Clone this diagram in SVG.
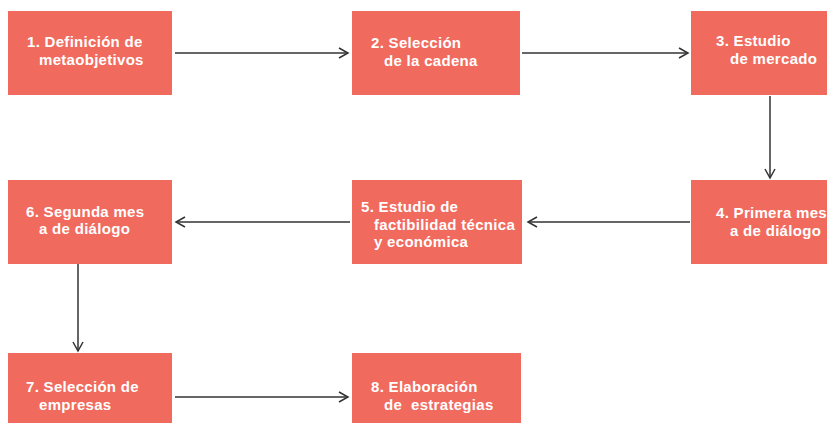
<svg xmlns="http://www.w3.org/2000/svg" width="827" height="423" viewBox="0 0 827 423">
<style>
.box{fill:#F16A5E}
.t{font-family:"Liberation Sans",Arial,sans-serif;font-weight:bold;font-size:15px;fill:#ffffff;white-space:pre;letter-spacing:0.3px}
.c{stroke:#333333;stroke-width:1.5;fill:none}
</style>
<defs>
<marker id="ah" markerWidth="12" markerHeight="12" refX="10" refY="6" orient="auto" markerUnits="userSpaceOnUse">
<path d="M1,1 L10,6 L1,11" fill="none" stroke="#333333" stroke-width="1.5"/>
</marker>
</defs>
<rect width="827" height="423" fill="#ffffff"/>
<g id="connectors">
<line class="c" x1="175" y1="53" x2="348" y2="53" marker-end="url(#ah)"/>
<line class="c" x1="522" y1="53" x2="688" y2="53" marker-end="url(#ah)"/>
<line class="c" x1="770" y1="96" x2="770" y2="178" marker-end="url(#ah)"/>
<line class="c" x1="690" y1="222" x2="528" y2="222" marker-end="url(#ah)"/>
<line class="c" x1="350" y1="222" x2="176" y2="222" marker-end="url(#ah)"/>
<line class="c" x1="78" y1="264" x2="78" y2="351" marker-end="url(#ah)"/>
<line class="c" x1="175" y1="397" x2="348" y2="397" marker-end="url(#ah)"/>
</g>
<g id="n1"><rect class="box" x="8" y="11" width="164" height="84"/><text class="t" x="27" y="47">1. Definición de</text><text class="t" x="39" y="65">metaobjetivos</text></g>
<g id="n2"><rect class="box" x="352" y="11" width="168" height="84"/><text class="t" x="371" y="47.5">2. Selección</text><text class="t" x="384" y="65.5">de la cadena</text></g>
<g id="n3"><rect class="box" x="691" y="11" width="140" height="84"/><text class="t" x="716" y="46">3. Estudio</text><text class="t" x="730" y="64">de mercado</text></g>
<g id="n4"><rect class="box" x="691" y="180" width="140" height="84"/><text class="t" x="716" y="218">4. Primera mes</text><text class="t" x="730" y="235.5">a de diálogo</text></g>
<g id="n5"><rect class="box" x="352" y="180" width="170" height="84"/><text class="t" x="361" y="212">5. Estudio de</text><text class="t" x="374" y="229.5">factibilidad técnica</text><text class="t" x="374" y="247">y económica</text></g>
<g id="n6"><rect class="box" x="8" y="180" width="164" height="84"/><text class="t" x="26" y="216.5">6. Segunda mes</text><text class="t" x="39" y="233.5">a de diálogo</text></g>
<g id="n7"><rect class="box" x="8" y="353" width="164" height="75"/><text class="t" x="26" y="391.5">7. Selección de</text><text class="t" x="39" y="409.5">empresas</text></g>
<g id="n8"><rect class="box" x="352" y="353" width="169" height="75"/><text class="t" x="371" y="392">8. Elaboración</text><text class="t" x="384" y="410">de  estrategias</text></g>
</svg>
